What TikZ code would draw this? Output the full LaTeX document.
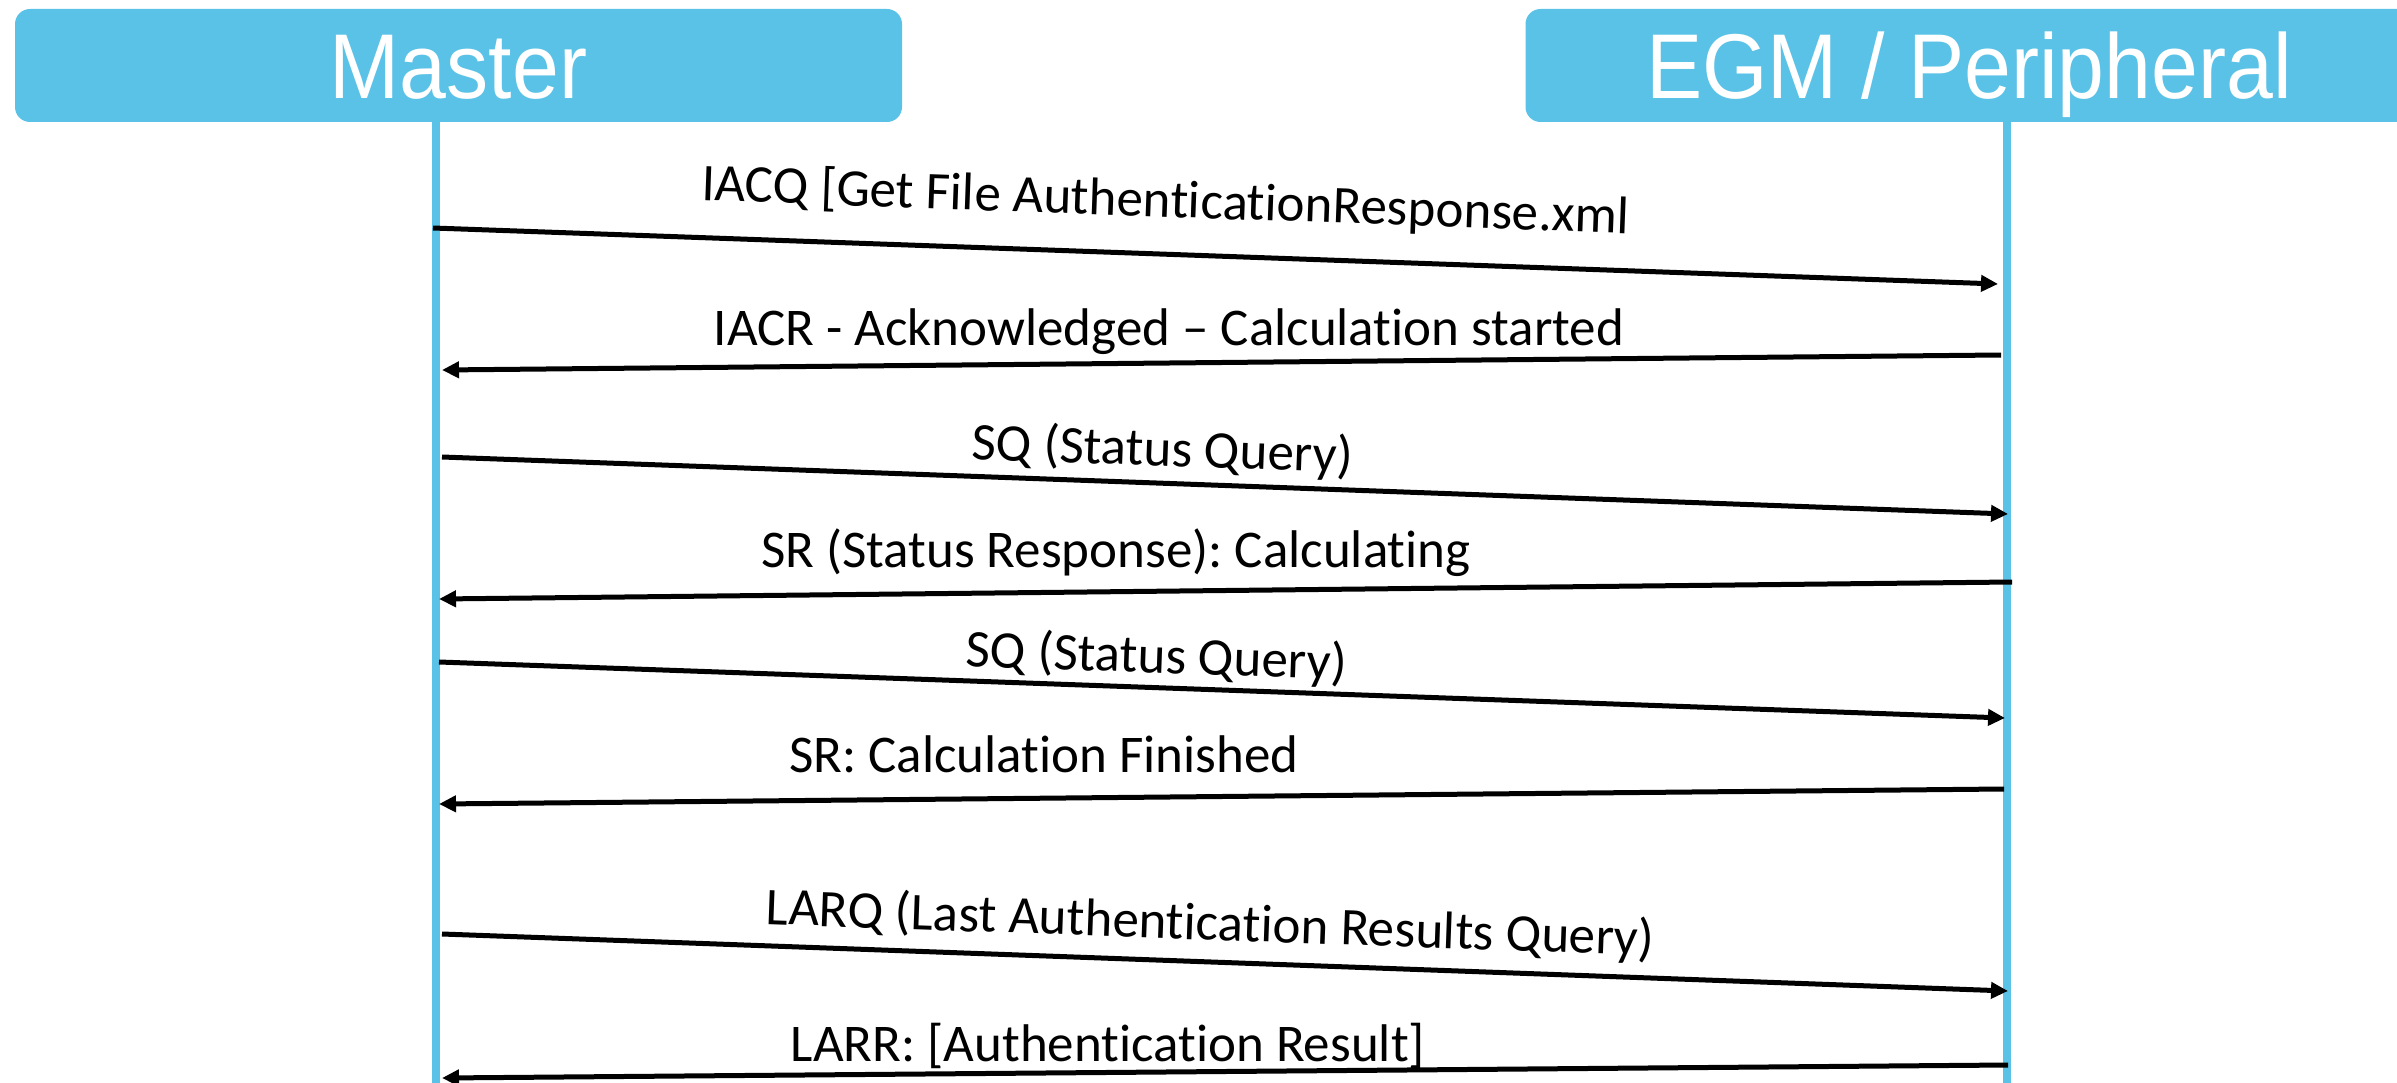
\documentclass[tikz,border=0pt]{standalone}
\usepackage{fontspec}
\setmainfont[Ligatures={NoCommon}]{Carlito}
\newfontfamily\headfont[FakeStretch=0.915]{Liberation Sans}
\usetikzlibrary{arrows.meta}
\definecolor{lifeblue}{RGB}{91,194,231}
\frenchspacing
\tikzset{
  headbox/.style={fill=lifeblue, draw=none, rounded corners=15pt, minimum width=887pt, minimum height=113pt, inner sep=0pt, text=white, font=\headfont\fontsize{92}{92}\selectfont, text height=66pt, text depth=0pt},
  life/.style={draw=lifeblue, line width=8pt},
  msg/.style={draw=black, line width=5pt, -{Triangle[length=17pt,width=16pt]}},
  msglabel/.style={font=\fontsize{53}{60}\selectfont, anchor=base, inner sep=0pt}
}
\begin{document}
\begin{tikzpicture}[x=1pt,y=-1pt]
\useasboundingbox (0,0) rectangle (2397,1083);
\clip (0,0) rectangle (2397,1083);
% headers
\node[headbox] (master) at (458.5,65.5) {Master};
\node[headbox] (egm) at (1969,65.5) {EGM / Peripheral};
% lifelines
\coordinate (mlb) at (436,1100);
\coordinate (elb) at (2007,1100);
\draw[life] (mlb |- master.south) -- (mlb);
\draw[life] (elb |- egm.south) -- (elb);
% message end points
\coordinate (a1s) at (433,228);  \coordinate (a1e) at (1998,284);
\coordinate (a2s) at (2001,355); \coordinate (a2e) at (442,370);
\coordinate (a3s) at (442,457);  \coordinate (a3e) at (2008,514);
\coordinate (a4s) at (2012,582); \coordinate (a4e) at (439,599);
\coordinate (a5s) at (439,662);  \coordinate (a5e) at (2005,718);
\coordinate (a6s) at (2004,789); \coordinate (a6e) at (439,804);
\coordinate (a7s) at (442,934);  \coordinate (a7e) at (2008,991);
\coordinate (a8s) at (2008,1065);\coordinate (a8e) at (442,1078);
\draw[msg] (a1s) -- (a1e);
\draw[msg] (a2s) -- (a2e);
\draw[msg] (a3s) -- (a3e);
\draw[msg] (a4s) -- (a4e);
\draw[msg] (a5s) -- (a5e);
\draw[msg] (a6s) -- (a6e);
\draw[msg] (a7s) -- (a7e);
\draw[msg] (a8s) -- (a8e);
% labels
\node[msglabel, rotate=-2.05] (l1) at (1165,217) {IACQ [Get File AuthenticationResponse.xml};
\node[msglabel] (l2) at (1169,345) {IACR - Acknowledged – Calculation started};
\node[msglabel, rotate=-2.05] (l3) at (1162,466) {SQ (Status Query)};
\node[msglabel] (l4) at (1116,567) {SR (Status Response): Calculating};
\node[msglabel, rotate=-2.05] (l5) at (1156,673) {SQ (Status Query)};
\node[msglabel] (l6) at (1044,772) {SR: Calculation Finished};
\node[msglabel, rotate=-2.05] (l7) at (1210,940) {LARQ (Last Authentication Results Query)};
\node[msglabel] (l8) at (1108,1061) {LARR: [Authentication Result]};
\end{tikzpicture}
\end{document}
